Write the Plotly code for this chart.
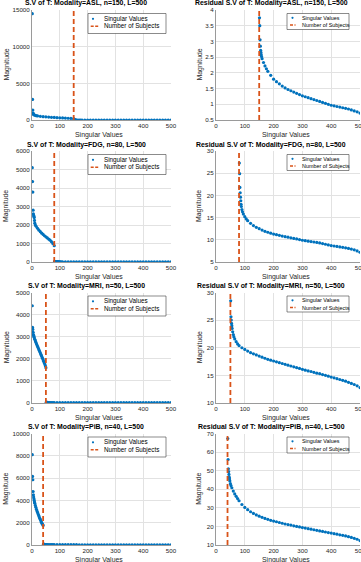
import plotly.graph_objects as go

# ---------------- data ----------------
modalities = ["ASL", "FDG", "MRI", "PiB"]
n_subjects = [150, 80, 50, 40]
L_value = 500

# leading singular values (indices 1..n)
asl_head_idx = [1, 2, 3, 4, 5, 6, 8, 10, 15, 20, 30, 40, 50, 60, 70, 80, 90, 100, 110, 120, 130, 140, 150]
asl_head_val = [14500, 2800, 1350, 950, 820, 760, 700, 650, 590, 550, 500, 460, 430, 400, 370, 345, 320, 300,
                280, 260, 240, 215, 190]
fdg_head_idx = [1, 2, 3, 4, 5, 6, 7, 8, 9, 10, 12, 15, 20, 25, 30, 35, 40, 45, 50, 55, 60, 65, 70, 75, 80]
fdg_head_val = [5100, 4350, 3780, 2800, 2600, 2520, 2460, 2400, 2250, 2100, 2000, 1930, 1820, 1720, 1640, 1560,
                1490, 1420, 1360, 1300, 1240, 1180, 1100, 1000, 880]
mri_head_idx = [1, 2, 3, 4, 5, 6, 7, 8, 10, 12, 14, 16, 18, 20, 22, 24, 26, 28, 30, 32, 34, 36, 38, 40, 42, 44,
                46, 48, 50]
mri_head_val = [4400, 3420, 3330, 3200, 3100, 3050, 3000, 2960, 2880, 2820, 2750, 2680, 2620, 2560, 2500, 2440,
                2380, 2320, 2260, 2200, 2140, 2080, 2020, 1960, 1890, 1820, 1760, 1690, 1600]
pib_head_idx = [1, 2, 3, 4, 5, 6, 7, 8, 9, 10, 12, 14, 16, 18, 20, 22, 24, 26, 28, 30, 32, 34, 36, 38, 40]
pib_head_val = [8100, 6150, 5850, 4800, 4500, 4300, 4150, 4000, 3850, 3750, 3550, 3380, 3200, 3060, 2920, 2780,
                2650, 2520, 2400, 2280, 2160, 2050, 1950, 1850, 1760]

# residual singular values (indices n+1..L)
asl_res_idx = [151, 152, 153, 154, 155, 156, 157, 158, 160, 165, 170, 175, 180, 190, 200, 210, 220, 230, 240,
               250, 260, 270, 280, 290, 300, 310, 320, 330, 340, 350, 360, 370, 380, 390, 400, 410, 420, 430,
               440, 450, 460, 470, 480, 490, 500]
asl_res_val = [3.75, 3.5, 3.05, 2.85, 2.72, 2.65, 2.58, 2.52, 2.45, 2.33, 2.22, 2.13, 2.05, 1.92, 1.8, 1.72,
               1.65, 1.58, 1.52, 1.47, 1.43, 1.39, 1.35, 1.31, 1.27, 1.24, 1.21, 1.18, 1.15, 1.12, 1.09, 1.06,
               1.03, 1.0, 0.97, 0.95, 0.93, 0.91, 0.89, 0.87, 0.85, 0.82, 0.79, 0.76, 0.72]
fdg_res_idx = [81, 82, 83, 84, 85, 86, 87, 88, 90, 92, 95, 100, 105, 110, 120, 130, 140, 150, 160, 170, 180,
               190, 200, 210, 220, 230, 240, 250, 260, 270, 280, 290, 300, 310, 320, 330, 340, 350, 360, 370,
               380, 390, 400, 410, 420, 430, 440, 450, 460, 470, 480, 490, 500]
fdg_res_val = [27.3, 24.9, 21.8, 20.6, 19.6, 18.8, 18.0, 17.5, 16.8, 16.3, 15.8, 15.2, 14.7, 14.3, 13.7, 13.2,
               12.8, 12.5, 12.2, 11.9, 11.7, 11.5, 11.3, 11.15, 11.0, 10.85, 10.7, 10.6, 10.45, 10.3, 10.2,
               10.05, 9.9, 9.8, 9.7, 9.6, 9.5, 9.4, 9.3, 9.15, 9.0, 8.85, 8.7, 8.6, 8.5, 8.4, 8.3, 8.2, 8.05,
               7.9, 7.75, 7.5, 7.2]
mri_res_idx = [51, 52, 53, 54, 55, 56, 58, 60, 62, 65, 70, 75, 80, 90, 100, 110, 120, 130, 140, 150, 160, 170,
               180, 190, 200, 210, 220, 230, 240, 250, 260, 270, 280, 290, 300, 310, 320, 330, 340, 350, 360,
               370, 380, 390, 400, 410, 420, 430, 440, 450, 460, 470, 480, 490, 500]
mri_res_val = [28.5, 25.6, 25.0, 24.4, 24.0, 23.5, 22.9, 22.4, 22.0, 21.6, 21.1, 20.7, 20.4, 20.0, 19.7, 19.4,
               19.1, 18.9, 18.7, 18.5, 18.3, 18.1, 17.9, 17.75, 17.6, 17.45, 17.3, 17.15, 17.0, 16.85, 16.7,
               16.55, 16.4, 16.25, 16.1, 15.95, 15.8, 15.7, 15.55, 15.4, 15.3, 15.15, 15.0, 14.85, 14.7, 14.55,
               14.4, 14.25, 14.1, 13.95, 13.75, 13.55, 13.35, 13.1, 12.8]
pib_res_idx = [41, 42, 43, 44, 45, 46, 47, 48, 50, 52, 55, 60, 65, 70, 75, 80, 90, 100, 110, 120, 130, 140, 150,
               160, 170, 180, 190, 200, 210, 220, 230, 240, 250, 260, 270, 280, 290, 300, 310, 320, 330, 340,
               350, 360, 370, 380, 390, 400, 410, 420, 430, 440, 450, 460, 470, 480, 490, 500]
pib_res_val = [67.3, 56.0, 51.0, 49.5, 48.0, 46.5, 45.5, 44.5, 43.0, 42.0, 40.8, 39.0, 37.5, 36.2, 35.0, 33.8,
               31.8, 30.2, 29.0, 27.9, 27.0, 26.2, 25.5, 24.9, 24.3, 23.8, 23.3, 22.9, 22.5, 22.1, 21.7, 21.3,
               21.0, 20.7, 20.3, 20.0, 19.7, 19.4, 19.1, 18.8, 18.5, 18.2, 17.9, 17.6, 17.3, 17.0, 16.7, 16.4,
               16.1, 15.8, 15.5, 15.2, 14.9, 14.5, 14.1, 13.6, 13.1, 12.4]

# y tick labels of each panel
left_yticks = [[0, 5000, 10000, 15000], [0, 1000, 2000, 3000, 4000, 5000, 6000],
               [0, 1000, 2000, 3000, 4000, 5000], [0, 2000, 4000, 6000, 8000, 10000]]
right_yticks = [[0.5, 1, 1.5, 2, 2.5, 3, 3.5, 4], [5, 10, 15, 20, 25, 30],
                [10, 15, 20, 25, 30], [10, 20, 30, 40, 50, 60, 70]]
x_ticks = [0, 100, 200, 300, 400, 500]

legend_labels = ["Singular Values", "Number of Subjects"]
x_label = "Singular Values"
y_label = "Magnitude"

series = [
    (asl_head_idx, asl_head_val, asl_res_idx, asl_res_val),
    (fdg_head_idx, fdg_head_val, fdg_res_idx, fdg_res_val),
    (mri_head_idx, mri_head_val, mri_res_idx, mri_res_val),
    (pib_head_idx, pib_head_val, pib_res_idx, pib_res_val),
]

# ---------------- layout helpers ----------------
W, H = 361, 562
BLUE = "#0072BD"
ORANGE = "#D95319"
FONT = "Liberation Sans, Arial, Helvetica, sans-serif"
TXT = "#262626"


def px(x):
    return x / W


def py(y):
    return 1 - y / H


rows_top = [10, 151, 292.5, 433.5]
rows_bot = [120, 262, 403, 545]
LEFT = (32, 171)
RIGHT = (216, 360)

fig = go.Figure()
layout = {}
annotations = []
shapes = []


def axis_common(ticks):
    return dict(
        showgrid=True, gridcolor="#e2e2e2", gridwidth=1,
        showline=True, linecolor="#9a9a9a", linewidth=1,
        zeroline=False, ticks="", automargin=False,
        tickmode="array", tickvals=ticks, ticktext=[f"{t:g}" for t in ticks],
        ticklabeloverflow="allow",
        tickfont=dict(family=FONT, size=6.2, color=TXT),
    )


def add_legend(bx, by, w, h, fs, r1, r2, txt_dx, mk_dx, ln_x0, ln_x1):
    shapes.append(dict(type="rect", xref="paper", yref="paper", x0=px(bx), x1=px(bx + w),
                       y0=py(by + h), y1=py(by), line=dict(color="#3c3c3c", width=0.6),
                       fillcolor="white", layer="above"))
    rr = 1.1
    shapes.append(dict(type="circle", xref="paper", yref="paper",
                       x0=px(bx + mk_dx - rr), x1=px(bx + mk_dx + rr),
                       y0=py(by + r1 + rr), y1=py(by + r1 - rr),
                       line=dict(width=0), fillcolor=BLUE, layer="above"))
    shapes.append(dict(type="line", xref="paper", yref="paper",
                       x0=px(bx + ln_x0), x1=px(bx + ln_x1), y0=py(by + r2), y1=py(by + r2),
                       line=dict(color=ORANGE, width=1.6, dash="3px,1.5px"), layer="above"))
    for lab, ry in zip(legend_labels, [r1, r2]):
        annotations.append(dict(text=lab, xref="paper", yref="paper", x=px(bx + txt_dx), y=py(by + ry),
                                xanchor="left", yanchor="middle", showarrow=False,
                                font=dict(family=FONT, size=fs, color="#000")))


for r in range(4):
    head_idx, head_val, res_idx, res_val = series[r]
    n = n_subjects[r]
    top, bot = rows_top[r], rows_bot[r]
    li, ri = 2 * r + 1, 2 * r + 2
    for side, xr in [("L", LEFT), ("R", RIGHT)]:
        ai = li if side == "L" else ri
        xname = "xaxis" if ai == 1 else f"xaxis{ai}"
        yname = "yaxis" if ai == 1 else f"yaxis{ai}"
        xref = "x" if ai == 1 else f"x{ai}"
        yref = "y" if ai == 1 else f"y{ai}"
        if side == "L":
            xs = list(head_idx) + list(res_idx)
            ys = list(head_val) + list(res_val)
            yt = left_yticks[r]
            title = f"S.V of T: Modality={modalities[r]}, n={n}, L={L_value}"
            tx = 86
        else:
            xs = list(res_idx)
            ys = list(res_val)
            yt = right_yticks[r]
            title = f"Residual S.V of T: Modality={modalities[r]}, n={n}, L={L_value}"
            tx = 271
        yrng = [yt[0], yt[-1]]
        xa = axis_common(x_ticks)
        xa.update(domain=[px(xr[0]), px(xr[1])], range=[x_ticks[0], L_value], anchor=yref)
        ya = axis_common(yt)
        ya.update(domain=[py(bot), py(top)], range=yrng, anchor=xref)
        layout[xname] = xa
        layout[yname] = ya
        fig.add_trace(go.Scatter(x=xs, y=ys, mode="markers", xaxis=xref, yaxis=yref,
                                 marker=dict(color=BLUE, size=3.2, line=dict(width=0)),
                                 showlegend=False))
        fig.add_trace(go.Scatter(x=[n, n], y=yrng, mode="lines", xaxis=xref, yaxis=yref,
                                 line=dict(color=ORANGE, width=1.8, dash="5px,3px"),
                                 showlegend=False))
        # title
        annotations.append(dict(text=f"<b>{title}</b>", xref="paper", yref="paper", x=px(tx),
                                y=py(top - 6.5), xanchor="center", yanchor="middle", showarrow=False,
                                font=dict(family=FONT, size=6.9, color="#000")))
        # axis titles
        annotations.append(dict(text=x_label, xref="paper", yref="paper", x=px((xr[0] + xr[1]) / 2 - 2),
                                y=py(bot + 14.5), xanchor="center", yanchor="middle", showarrow=False,
                                font=dict(family=FONT, size=6.9, color=TXT)))
        ylx = 6.5 if side == "L" else 199.5
        annotations.append(dict(text=y_label, xref="paper", yref="paper", x=px(ylx),
                                y=py((top + bot) / 2), xanchor="center", yanchor="middle", showarrow=False,
                                textangle=-90, font=dict(family=FONT, size=6.9, color=TXT)))
        # legend
        if side == "L":
            add_legend(88, top + 3.5, 78, 20, 6.3, 5.3, 12.8, 14, 5, 2.7, 10.7)
        else:
            add_legend(287, top + 3.5, 62, 16, 5.4, 4.3, 11.5, 13, 5.5, 3, 8.5)

layout.update(
    width=W, height=H, margin=dict(l=0, r=0, t=0, b=0),
    paper_bgcolor="white", plot_bgcolor="white", showlegend=False,
    annotations=annotations, shapes=shapes,
    font=dict(family=FONT, color=TXT),
)
fig.update_layout(**layout)
fig.write_html("out.html", config={"displayModeBar": False})
